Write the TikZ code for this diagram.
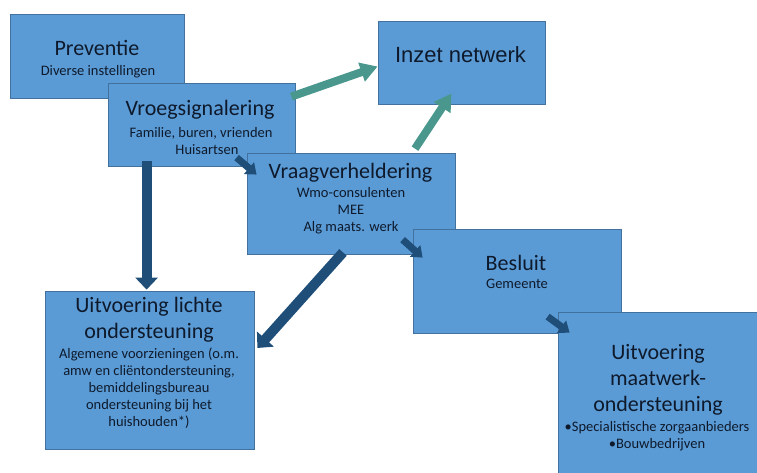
\documentclass[tikz,border=0pt]{standalone}
\usepackage{fontspec}
\setmainfont{Carlito}
\newfontfamily\arialfont{Liberation Sans}
\usetikzlibrary{arrows.meta,calc}

\definecolor{vakblauw}{RGB}{91,155,213}
\definecolor{randblauw}{RGB}{65,113,156}
\definecolor{pijlteal}{RGB}{74,152,141}
\definecolor{pijldonker}{RGB}{31,78,121}
\definecolor{tekstkleur}{RGB}{14,26,44}

\begin{document}
\begin{tikzpicture}[
    x=1pt, y=1pt,
    vak/.style={rectangle, draw=randblauw, line width=0.8pt, fill=vakblauw, inner sep=0pt},
    kop/.style={anchor=base, inner sep=0pt, text=tekstkleur, font=\fontsize{22}{26}\selectfont, align=center},
    sub/.style={anchor=base, inner sep=0pt, text=tekstkleur, font=\fontsize{14.5}{17}\selectfont, align=center},
    tealpijl/.style={draw=pijlteal, line width=8pt, -{Triangle[width=19pt,length=17pt]}},
    donkerpijl/.style={draw=pijldonker, line width=10pt, -{Triangle[width=22pt,length=12pt]}},
    kleinpijl/.style={draw=pijldonker, line width=7pt, -{Triangle[width=15pt,length=10pt]}}
]

\useasboundingbox (0,0) rectangle (757,-472);

% multi-line nodes: base = baseline of the last line

% ================= Preventie =================

\node[vak, minimum width=174, minimum height=84] (prev) at (97,-56) {};
\node[kop] (prevk) at (97,-55) {Preventie};
\node[sub] (prevs) at (98,-75) {Diverse instellingen};

% ================= Vroegsignalering =================

\node[vak, minimum width=187, minimum height=83] (vroeg) at (201.5,-124.5) {};
\node[kop] (vroegk) at (200,-115) {Vroegsignalering};
\node[sub] (vroegs) at (201,-154) {Familie, buren, vrienden\\ \hspace*{12pt}Huisartsen};

% ================= Inzet netwerk =================

\node[vak, minimum width=167, minimum height=83] (inzet) at (461.5,-62.5) {};
\node[kop, font=\arialfont\fontsize{22}{26}\selectfont] (inzetk) at (460.5,-62) {Inzet netwerk};

% ================= Vraagverheldering =================

\node[vak, minimum width=208, minimum height=101] (vraag) at (351,-203.5) {};
\node[kop] (vraagk) at (350.5,-178) {Vraagverheldering};
\node[sub] (vraags) at (351,-231) {Wmo-consulenten\\ MEE\\ Alg maats. werk};

% ================= Besluit =================

\node[vak, minimum width=208, minimum height=104] (besluit) at (517,-281) {};
\node[kop] (besluitk) at (516,-270) {Besluit};
\node[sub] (besluits) at (517,-288) {Gemeente};

% ================= Uitvoering maatwerk-ondersteuning =================

\node[vak, minimum width=200, minimum height=161] (maat) at (658,-392.5) {};
\node[kop] (maatk) at (658,-411) {Uitvoering\\ maatwerk-\\ ondersteuning};
\node[sub] (maats) at (657,-448) {•Specialistische zorgaanbieders\\ •Bouwbedrijven};

% ================= Uitvoering lichte ondersteuning =================

\node[vak, minimum width=209, minimum height=158] (licht) at (149.5,-370) {};
\node[kop] (lichtk) at (149,-338) {Uitvoering lichte\\ ondersteuning};
\node[sub] (lichts) at (149,-426) {Algemene voorzieningen (o.m.\\ amw en cliëntondersteuning,\\ bemiddelingsbureau\\ ondersteuning bij het\\ huishouden*)};

% ================= Pijlen =================

\draw[tealpijl] ($(vroeg.north east)+(-4,-14)$) -- ($(inzet.west)+(0,-4)$);
\draw[tealpijl] ($(vraag.north)+(64,4)$) -- ($(inzet.south)+(-10,11)$);

\draw[donkerpijl] ($(vroeg.south west)+(39,5)$) -- ($(licht.north west)+(102,1)$);
\draw[donkerpijl] ($(vraag.south)+(-8,2)$) -- ($(licht.east)+(3,22)$);

\draw[kleinpijl] ($(vraag.north west)+(-10,-5)$) -- ($(vraag.north west)+(10,-22)$);
\draw[kleinpijl] ($(besluit.north west)+(-10,-11)$) -- ($(besluit.north west)+(10,-29)$);
\draw[kleinpijl] ($(maat.north west)+(-10,-5)$) -- ($(maat.north west)+(12,-21)$);

\end{tikzpicture}
\end{document}
